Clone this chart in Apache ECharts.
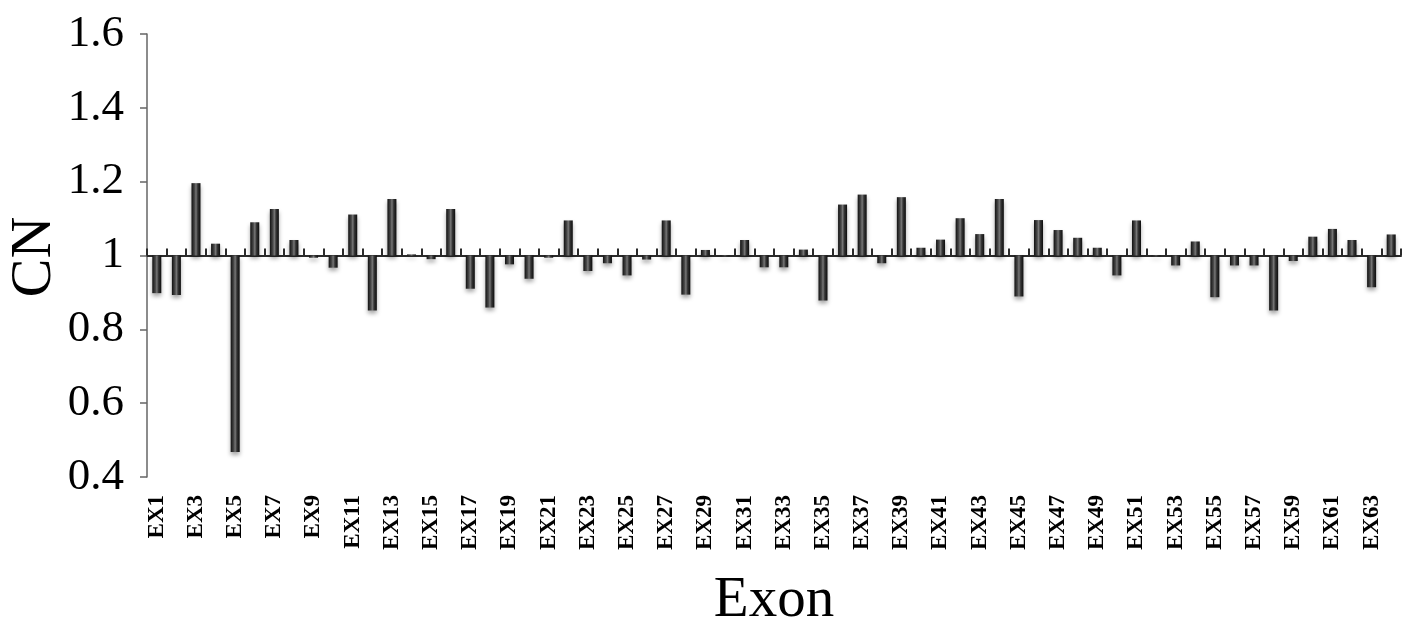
<!DOCTYPE html>
<html>
<head>
<meta charset="utf-8">
<script src="https://cdn.jsdelivr.net/npm/echarts@6/dist/echarts.min.js"></script>
<style>
  html, body { margin: 0; padding: 0; background: #fff; }
  #chart { width: 1417px; height: 628px; }
</style>
</head>
<body>
<div id="chart"></div>
<script>
// exon names EX1..EX64
var exons = ['EX1','EX2','EX3','EX4','EX5','EX6','EX7','EX8','EX9','EX10',
  'EX11','EX12','EX13','EX14','EX15','EX16','EX17','EX18','EX19','EX20',
  'EX21','EX22','EX23','EX24','EX25','EX26','EX27','EX28','EX29','EX30',
  'EX31','EX32','EX33','EX34','EX35','EX36','EX37','EX38','EX39','EX40',
  'EX41','EX42','EX43','EX44','EX45','EX46','EX47','EX48','EX49','EX50',
  'EX51','EX52','EX53','EX54','EX55','EX56','EX57','EX58','EX59','EX60',
  'EX61','EX62','EX63','EX64']

// copy number per exon
var cn = [0.898, 0.893, 1.196, 1.032, 0.468, 1.090, 1.126, 1.042, 0.994, 0.967,
  1.111, 0.851, 1.153, 1.003, 0.990, 1.126, 0.910, 0.859, 0.976, 0.937,
  0.994, 1.095, 0.958, 0.979, 0.946, 0.989, 1.095, 0.894, 1.015, 0.998,
  1.042, 0.968, 0.968, 1.016, 0.878, 1.138, 1.165, 0.979, 1.158, 1.021,
  1.043, 1.101, 1.058, 1.153, 0.889, 1.096, 1.069, 1.048, 1.021, 0.946,
  1.095, 0.998, 0.973, 1.038, 0.887, 0.973, 0.973, 0.851, 0.985, 1.051,
  1.072, 1.042, 0.914, 1.057]

var baseline = 1
var yMin = 0.4, yMax = 1.6, yStep = 0.2

var myChart = echarts.init(document.getElementById('chart'))

// bars hang from CN = 1, so plot the offset on a hidden axis centred on 0
var offsets = cn.map(function (v) { return +(v - baseline).toFixed(4) })

var barFill = new echarts.graphic.LinearGradient(0, 0, 1, 0, [
  { offset: 0, color: '#111' },
  { offset: 0.35, color: '#4a4a4a' },
  { offset: 0.5, color: '#777' },
  { offset: 0.7, color: '#333' },
  { offset: 1, color: '#0d0d0d' }
])

var option = {
  animation: false,
  grid: {
    left: 147,
    right: 16,
    top: 34,
    bottom: 151,
    outerBoundsMode: 'none',
    containLabel: false
  },
  // y axis title, placed by hand since the axis name gets pushed past the labels
  graphic: [{
    type: 'text',
    x: 35,
    y: 257,
    rotation: Math.PI / 2,
    style: {
      text: 'CN',
      font: '58px "Liberation Serif"',
      fill: '#000',
      align: 'center',
      verticalAlign: 'middle'
    }
  }],
  xAxis: [{
    type: 'category',
    data: exons,
    position: 'bottom',
    axisLine: {
      onZero: true,
      onZeroAxisIndex: 1,
      lineStyle: { color: '#2b2b2b', width: 2 }
    },
    axisTick: {
      show: true,
      inside: true,
      length: 7,
      interval: 0,
      lineStyle: { color: '#2b2b2b', width: 2 }
    },
    axisLabel: { show: false }
  }, {
    type: 'category',
    data: exons,
    position: 'bottom',
    axisLine: { show: false, onZero: false },
    axisTick: { show: false },
    axisLabel: {
      interval: 1,
      rotate: 90,
      margin: 18,
      fontFamily: 'Liberation Serif',
      fontWeight: 'bold',
      fontSize: 23,
      color: '#000'
    },
    name: 'Exon',
    nameLocation: 'middle',
    nameGap: 96,
    nameTextStyle: {
      fontFamily: 'Liberation Serif',
      fontSize: 57,
      color: '#000'
    }
  }],
  yAxis: [{
    type: 'value',
    min: yMin,
    max: yMax,
    interval: yStep,
    splitLine: { show: false },
    axisLine: {
      show: true,
      lineStyle: { color: '#666', width: 1.5 }
    },
    axisTick: {
      show: true,
      length: 7,
      lineStyle: { color: '#666', width: 1.5 }
    },
    axisLabel: {
      margin: 23,
      fontFamily: 'Liberation Serif',
      fontSize: 45,
      color: '#000',
      formatter: function (v) {
        return Math.abs(v - 1) < 1e-9 ? '1' : v.toFixed(1)
      }
    }
  }, {
    type: 'value',
    show: false,
    min: yMin - baseline,
    max: yMax - baseline
  }],
  series: [{
    type: 'bar',
    data: offsets,
    xAxisIndex: 0,
    yAxisIndex: 1,
    barWidth: 9,
    itemStyle: {
      color: barFill,
      shadowColor: 'rgba(0,0,0,0.35)',
      shadowBlur: 4,
      shadowOffsetY: 3
    }
  }]
}

myChart.setOption(option)
</script>
</body>
</html>
